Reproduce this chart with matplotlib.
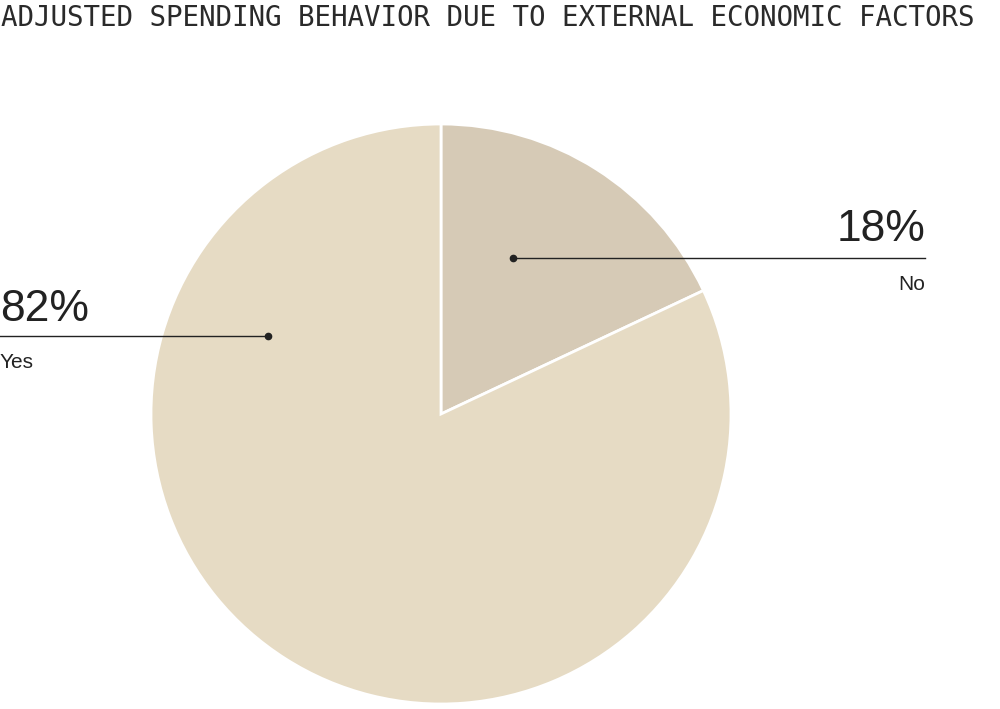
import numpy as np
import matplotlib
matplotlib.use('Agg')
import matplotlib.pyplot as plt

# data
labels = ['No', 'Yes']
values = [18, 82]
colors = ['#d6cab6', '#e6dbc4']
title = 'ADJUSTED SPENDING BEHAVIOR DUE TO EXTERNAL ECONOMIC FACTORS'

W, H = 1000, 709
fig = plt.figure(figsize=(W / 100, H / 100), dpi=100)
ax = fig.add_axes([0, 0, 1, 1])

# pie, drawn in pixel-like coords (y goes up)
cx, cy, r = 441, H - 414, 290
ax.pie(values, colors=colors, startangle=90, counterclock=False,
       center=(cx, cy), radius=r, frame=True,
       wedgeprops=dict(edgecolor='white', linewidth=2))
ax.set_xlim(0, W)
ax.set_ylim(0, H)
ax.set_aspect('equal')
ax.axis('off')

ink = '#222222'
sans = 'Liberation Sans'

# label for "No" (right side)
dot_no = (513, H - 258)
ax.plot([dot_no[0], 925], [dot_no[1], dot_no[1]], color=ink, lw=1)
ax.plot(*dot_no, 'o', color=ink, ms=4.5)
ax.text(925, H - 241, f'{values[0]}%', ha='right', va='baseline',
        fontsize=32, family=sans, color=ink)
ax.text(925, H - 285, labels[0], ha='right', va='center',
        fontsize=15, family=sans, color=ink)

# label for "Yes" (left side)
dot_yes = (268, H - 336)
ax.plot([0, dot_yes[0]], [dot_yes[1], dot_yes[1]], color=ink, lw=1)
ax.plot(*dot_yes, 'o', color=ink, ms=4.5)
ax.text(0, H - 321, f'{values[1]}%', ha='left', va='baseline',
        fontsize=32, family=sans, color=ink)
ax.text(0, H - 363, labels[1], ha='left', va='center',
        fontsize=15, family=sans, color=ink)

# title
ax.text(1, H - 18, title, ha='left', va='center', fontsize=19.8,
        family='DejaVu Sans Mono', color='#2a2a2a')

fig.savefig('out.png', dpi=100, facecolor='white')
